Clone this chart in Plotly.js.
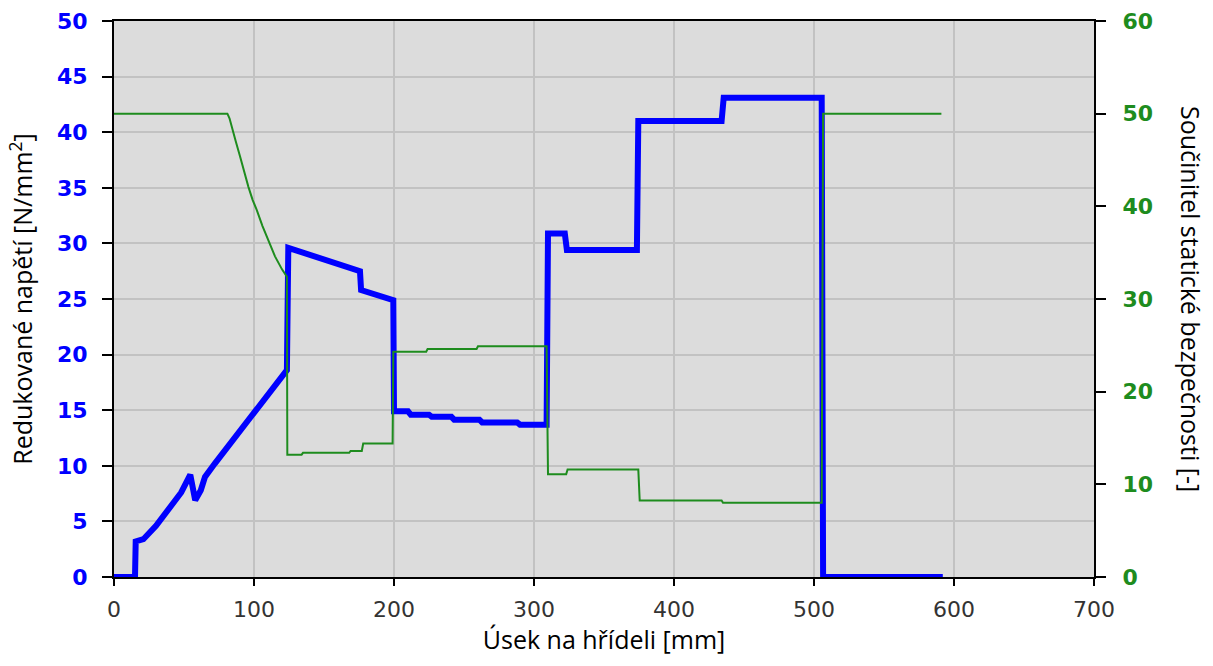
<!DOCTYPE html>
<html>
<head>
<meta charset="utf-8">
<script src="https://cdn.plot.ly/plotly-3.0.1.min.js"></script>
<style>html,body{margin:0;padding:0;background:#fff;}#chart{width:1213px;height:666px;}</style>
</head>
<body>
<div id="chart"></div>
<script>
// Redukované napětí (left axis) along the shaft
const stressX = [0, 15, 15.5, 21, 30, 40, 48, 54.5, 56, 58, 62, 65, 72, 80, 86, 93, 100, 108, 115, 122, 123.5, 124.5, 150, 175.7, 176.5, 197, 199.5, 200, 210, 212, 225, 227, 241, 243, 261, 263, 288, 290, 309, 310, 322, 323.5, 373.5, 374.5, 434, 435.5, 505.5, 506.5, 592];
const stressY = [0, 0, 3.2, 3.4, 4.6, 6.2, 7.6, 9.2, 7.8, 6.9, 7.8, 9.0, 10.2, 11.5, 12.4, 13.6, 14.8, 16.1, 17.3, 18.4, 18.6, 29.6, 28.6, 27.5, 25.8, 25.1, 24.9, 14.9, 14.9, 14.6, 14.6, 14.4, 14.4, 14.15, 14.15, 13.9, 13.9, 13.7, 13.7, 30.9, 30.9, 29.4, 29.4, 41.0, 41.0, 43.1, 43.1, 0, 0];

// Součinitel statické bezpečnosti (right axis)
const safetyX = [0, 81, 82.5, 84, 87, 90, 93, 96, 99, 102, 106, 111, 115, 120, 123.5, 123.8, 134, 135, 168, 169, 177, 178, 199, 199.5, 223, 224, 259, 260, 309, 310, 323, 324, 374.5, 375.5, 434, 435, 505.5, 506.5, 591];
const safetyY = [50, 50, 49.5, 48.6, 47.0, 45.4, 43.7, 42.1, 40.7, 39.6, 37.9, 36.0, 34.6, 33.2, 32.4, 13.2, 13.2, 13.4, 13.4, 13.6, 13.6, 14.4, 14.4, 24.3, 24.3, 24.6, 24.6, 24.9, 24.9, 11.1, 11.1, 11.6, 11.6, 8.25, 8.25, 8.0, 8.0, 50, 50];

const xTicks = [0, 100, 200, 300, 400, 500, 600, 700];
const leftTicks = [0, 5, 10, 15, 20, 25, 30, 35, 40, 45, 50];
const rightTicks = [0, 10, 20, 30, 40, 50, 60];

const xTitle = 'Úsek na hřídeli [mm]';
const leftTitle = 'Redukované napětí [N/mm<sup>2</sup>]';
const rightTitle = 'Součinitel statické bezpečnosti [-]';

const BLUE = '#0000ff';
const GREEN = '#1e8c1e';
const tickFamily = 'DejaVu Sans, Verdana, sans-serif';
const titleFont = {family: 'Open Sans, Noto Sans, sans-serif', size: 25, color: '#000'};

const traces = [
  {x: safetyX, y: safetyY, yaxis: 'y2', type: 'scatter', mode: 'lines',
   line: {color: GREEN, width: 2}, hoverinfo: 'skip'},
  {x: stressX, y: stressY, type: 'scatter', mode: 'lines',
   line: {color: BLUE, width: 6}, hoverinfo: 'skip'}
];

const layout = {
  width: 1213, height: 666,
  margin: {l: 114, r: 119, t: 21, b: 89},
  paper_bgcolor: '#ffffff',
  plot_bgcolor: '#dcdcdc',
  showlegend: false,
  xaxis: {
    range: [0, 700], tickvals: xTicks, ticktext: xTicks.map(String),
    showgrid: true, gridcolor: '#c2c2c2', gridwidth: 2,
    showline: true, linecolor: '#000', linewidth: 2, mirror: true,
    ticks: 'outside', ticklen: 7, tickcolor: '#000', tickwidth: 2,
    ticklabelstandoff: 5,
    tickfont: {family: tickFamily, size: 22, color: '#333'}, zeroline: false,
    title: {text: xTitle, font: titleFont, standoff: 2}
  },
  yaxis: {
    range: [0, 50], tickvals: leftTicks, ticktext: leftTicks.map(String),
    showgrid: true, gridcolor: '#c2c2c2', gridwidth: 2,
    showline: true, linecolor: '#000', linewidth: 2,
    ticks: 'outside', ticklen: 10, tickcolor: '#000', tickwidth: 2,
    ticklabelstandoff: 10,
    tickfont: {family: tickFamily, size: 22, color: BLUE, weight: 'bold'},
    zeroline: false,
    title: {text: leftTitle, font: titleFont, standoff: 17}
  },
  yaxis2: {
    range: [0, 60], tickvals: rightTicks, ticktext: rightTicks.map(String),
    overlaying: 'y', side: 'right', showgrid: false,
    showline: true, linecolor: '#000', linewidth: 2,
    ticks: 'outside', ticklen: 10, tickcolor: '#000', tickwidth: 2,
    ticklabelstandoff: 12,
    tickfont: {family: tickFamily, size: 22, color: GREEN, weight: 'bold'},
    zeroline: false
  },
  annotations: [{
    text: rightTitle, xref: 'paper', yref: 'paper', x: 1, y: 0.5,
    xshift: 97, textangle: 90, showarrow: false, font: titleFont,
    xanchor: 'center', yanchor: 'middle'
  }]
};

Plotly.newPlot('chart', traces, layout, {staticPlot: true, displayModeBar: false});
</script>
</body>
</html>
